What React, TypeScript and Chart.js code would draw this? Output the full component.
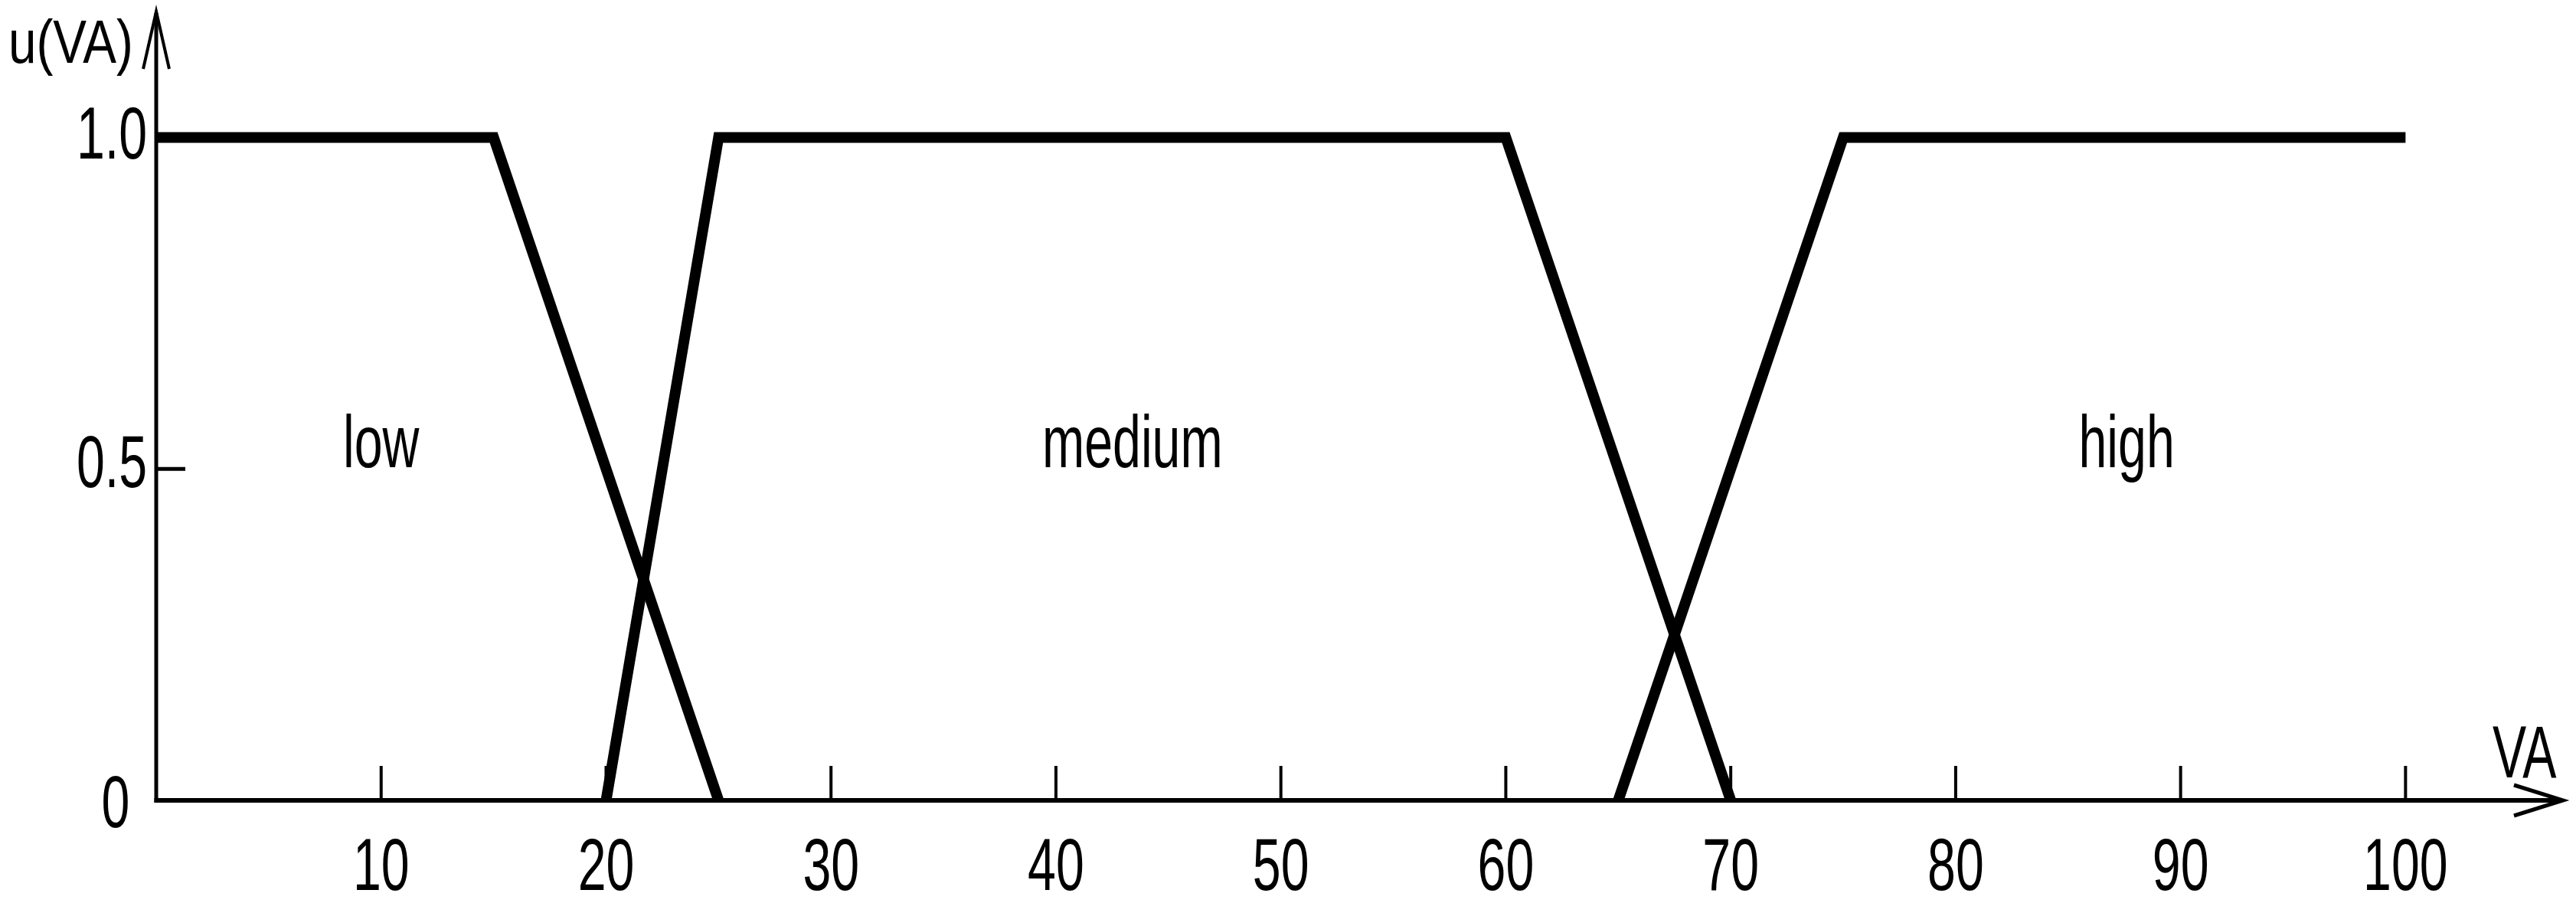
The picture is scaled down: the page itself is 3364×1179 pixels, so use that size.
import React, { useEffect, useRef } from "react";
import { Chart, registerables } from "chart.js";

Chart.register(...registerables);

// ---- data ----
const lowX = [0, 15, 25];
const lowY = [1, 1, 0];
const mediumX = [20, 25, 60, 70];
const mediumY = [0, 1, 1, 0];
const highX = [65, 75, 100];
const highY = [0, 1, 1];

const xTicks = [10, 20, 30, 40, 50, 60, 70, 80, 90, 100];
const xTickLabels = ["10", "20", "30", "40", "50", "60", "70", "80", "90", "100"];
const yTicks = [0, 0.5, 1.0];
const yTickLabels = ["0", "0.5", "1.0"];

const setNames = ["low", "medium", "high"];
const setLabelX = [10, 43.4, 87.6];
const setLabelY = [0.503, 0.503, 0.503];

const xAxisTitle = "VA";
const yAxisTitle = "u(VA)";
const xMax = 107;
const yMax = 1.19;

// ---- layout constants ----
const W = 3364;
const H = 1179;
const FONT = '"Liberation Sans", Arial, Helvetica, sans-serif';

function drawText(
  ctx: CanvasRenderingContext2D,
  text: string,
  x: number,
  y: number,
  size: number,
  sx: number,
  align: CanvasTextAlign
) {
  ctx.save();
  ctx.translate(x, y);
  ctx.scale(sx, 1);
  ctx.font = `${size}px ${FONT}`;
  ctx.textAlign = align;
  ctx.textBaseline = "alphabetic";
  ctx.fillStyle = "#000";
  ctx.fillText(text, 0, 0);
  ctx.restore();
}

const axesPlugin = {
  id: "fuzzyAxes",
  beforeDatasetsDraw(chart: any) {
    const ctx: CanvasRenderingContext2D = chart.ctx;
    const xs = chart.scales.x;
    const ys = chart.scales.y;
    const x0 = xs.getPixelForValue(0);
    const xEnd = xs.getPixelForValue(xMax);
    const y0 = ys.getPixelForValue(0);
    const yEnd = ys.getPixelForValue(yMax);
    ctx.save();
    ctx.strokeStyle = "#000";
    ctx.lineCap = "butt";
    ctx.lineJoin = "miter";

    // y axis
    ctx.lineWidth = 5;
    ctx.beginPath();
    ctx.moveTo(x0, y0 + 3);
    ctx.lineTo(x0, yEnd + 2);
    ctx.stroke();
    // y arrow
    ctx.lineWidth = 4;
    ctx.beginPath();
    ctx.moveTo(x0 - 17, yEnd + 75);
    ctx.lineTo(x0, yEnd);
    ctx.lineTo(x0 + 17, yEnd + 75);
    ctx.stroke();

    // x axis
    ctx.lineWidth = 6;
    ctx.beginPath();
    ctx.moveTo(x0 - 2.5, y0);
    ctx.lineTo(xEnd - 2, y0);
    ctx.stroke();
    // x arrow
    ctx.lineWidth = 5;
    ctx.beginPath();
    ctx.moveTo(xEnd - 64, y0 - 20);
    ctx.lineTo(xEnd, y0);
    ctx.lineTo(xEnd - 64, y0 + 20);
    ctx.stroke();

    // x tick marks
    ctx.lineWidth = 4;
    xTicks.forEach((v) => {
      const px = xs.getPixelForValue(v);
      ctx.beginPath();
      ctx.moveTo(px, y0);
      ctx.lineTo(px, y0 - 45);
      ctx.stroke();
    });
    // y tick marks
    ctx.lineWidth = 5;
    yTicks.forEach((v) => {
      if (v <= 0) return;
      const py = ys.getPixelForValue(v);
      ctx.beginPath();
      ctx.moveTo(x0, py);
      ctx.lineTo(x0 + 38, py);
      ctx.stroke();
    });
    ctx.restore();
  },
  afterDraw(chart: any) {
    const ctx: CanvasRenderingContext2D = chart.ctx;
    const xs = chart.scales.x;
    const ys = chart.scales.y;
    const x0 = xs.getPixelForValue(0);
    const xEnd = xs.getPixelForValue(xMax);
    const y0 = ys.getPixelForValue(0);
    const yEnd = ys.getPixelForValue(yMax);
    const size = 96;
    const sx = 0.69;

    // x tick labels
    xTicks.forEach((v, i) => {
      drawText(ctx, xTickLabels[i], xs.getPixelForValue(v), y0 + 117, size, sx, "center");
    });
    // y tick labels
    yTicks.forEach((v, i) => {
      const py = ys.getPixelForValue(v);
      if (v === 0) {
        drawText(ctx, yTickLabels[i], x0 - 53, py + 35, size, sx, "center");
      } else if (v === 0.5) {
        drawText(ctx, yTickLabels[i], x0 - 12, py + 24, size, sx, "right");
      } else {
        drawText(ctx, yTickLabels[i], x0 - 12, py + 28, size, sx, "right");
      }
    });
    // axis titles
    drawText(ctx, xAxisTitle, xEnd - 92, y0 - 30, size, sx, "left");
    drawText(ctx, yAxisTitle, x0 - 193, yEnd + 67, 80, 0.82, "left");

    // fuzzy set names
    setNames.forEach((name, i) => {
      drawText(
        ctx,
        name,
        xs.getPixelForValue(setLabelX[i]),
        ys.getPixelForValue(setLabelY[i]),
        size,
        sx,
        "center"
      );
    });
  },
};

function makeDataset(label: string, xsArr: number[], ysArr: number[]) {
  return {
    label,
    data: xsArr.map((x, i) => ({ x, y: ysArr[i] })),
    borderColor: "#000",
    backgroundColor: "#000",
    borderWidth: 14,
    pointRadius: 0,
    pointHoverRadius: 0,
    fill: false,
    tension: 0,
    borderJoinStyle: "miter" as const,
    borderCapStyle: "butt" as const,
    clip: false as const,
  };
}

export default function App() {
  const canvasRef = useRef<HTMLCanvasElement | null>(null);

  useEffect(() => {
    if (!canvasRef.current) return;
    const chart = new Chart(canvasRef.current, {
      type: "line",
      data: {
        datasets: [
          makeDataset(setNames[0], lowX, lowY),
          makeDataset(setNames[1], mediumX, mediumY),
          makeDataset(setNames[2], highX, highY),
        ],
      },
      options: {
        animation: false,
        responsive: false,
        maintainAspectRatio: false,
        devicePixelRatio: 1,
        events: [],
        layout: { padding: { left: 204, right: 17, top: 15, bottom: 134 } },
        plugins: {
          legend: { display: false },
          tooltip: { enabled: false },
          title: { display: false },
        },
        scales: {
          x: { type: "linear", min: 0, max: xMax, display: false },
          y: { type: "linear", min: 0, max: yMax, display: false },
        },
      },
      plugins: [axesPlugin],
    } as any);
    return () => chart.destroy();
  }, []);

  return (
    <div
      style={{
        position: "fixed",
        left: 0,
        top: 0,
        width: W,
        height: H,
        background: "#fff",
        overflow: "hidden",
      }}
    >
      <canvas
        ref={canvasRef}
        width={W}
        height={H}
        style={{ display: "block", width: W, height: H }}
      />
    </div>
  );
}
